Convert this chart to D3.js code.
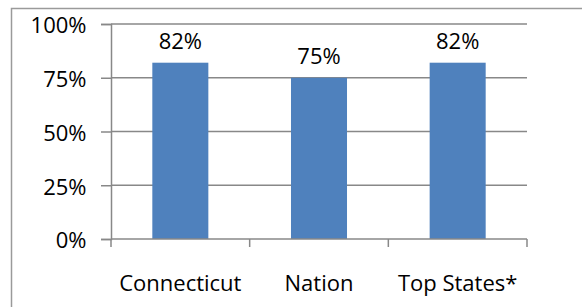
<!DOCTYPE html>
<html>
<head>
<meta charset="utf-8">
<script src="https://cdn.jsdelivr.net/npm/d3@7"></script>
<style>
    body { margin: 0; background: #fff; }
    text { font-family: "Open Sans", "Noto Sans", sans-serif; fill: #000; }
</style>
</head>
<body>
<div id="chart"></div>
<script>
const categories = ["Connecticut", "Nation", "Top States*"];
const values = [0.82, 0.75, 0.82];
const yTicks = [0, 0.25, 0.5, 0.75, 1];

function drawChart() {
    const width = 582;
    const height = 307;
    const margin = { top: 24, right: 55, bottom: 68, left: 111 };
    const fontSize = 22;

    const svg = d3
        .select("#chart")
        .append("svg")
        .attr("width", width)
        .attr("height", height);

    // outer frame (right and bottom edges fall off the picture)
    svg.append("rect")
        .attr("x", 11.5)
        .attr("y", 8.5)
        .attr("width", 600)
        .attr("height", 320)
        .attr("fill", "none")
        .attr("stroke", "#9a9a9a")
        .attr("stroke-width", 1.5);

    const x = d3
        .scaleBand()
        .domain(categories)
        .range([margin.left, width - margin.right])
        .paddingInner(0.596)
        .paddingOuter(0.298);

    const y = d3
        .scaleLinear()
        .domain([0, 1])
        .range([height - margin.bottom, margin.top]);

    // gridlines
    svg.append("g")
        .selectAll("line")
        .data(yTicks.filter((d) => d > 0))
        .join("line")
        .attr("x1", margin.left)
        .attr("x2", width - margin.right)
        .attr("y1", (d) => y(d))
        .attr("y2", (d) => y(d))
        .attr("stroke", "#888")
        .attr("stroke-width", 1.5);

    // bars
    svg.append("g")
        .selectAll("rect")
        .data(values)
        .join("rect")
        .attr("x", (d, i) => x(categories[i]))
        .attr("y", (d) => y(d))
        .attr("width", x.bandwidth())
        .attr("height", (d) => y(0) - y(d))
        .attr("fill", "#4f81bd");

    // data labels
    svg.append("g")
        .selectAll("text")
        .data(values)
        .join("text")
        .attr("x", (d, i) => x(categories[i]) + x.bandwidth() / 2)
        .attr("y", (d) => y(d) - 14)
        .attr("text-anchor", "middle")
        .attr("font-size", fontSize)
        .text((d) => d3.format(".0%")(d));

    // y axis
    const yAxis = svg.append("g")
        .attr("transform", `translate(${margin.left},0)`)
        .call(d3.axisLeft(y).tickValues(yTicks).tickFormat(d3.format(".0%")).tickSize(10).tickPadding(14.5));
    yAxis.attr("font-family", null).attr("font-size", null);
    yAxis.select(".domain").attr("stroke", "#888").attr("stroke-width", 1.5);
    yAxis.selectAll(".tick line").attr("stroke", "#888").attr("stroke-width", 1.5);
    yAxis.selectAll(".tick text")
        .attr("font-size", fontSize)
        .attr("fill", "#000")
        .attr("dy", "0.4em");

    // x axis with ticks at band boundaries
    const xAxisY = y(0);
    const bounds = categories.map((c) => x(c) - (x.step() * x.paddingInner()) / 2);
    bounds.push(width - margin.right);

    svg.append("line")
        .attr("x1", margin.left)
        .attr("x2", width - margin.right)
        .attr("y1", xAxisY)
        .attr("y2", xAxisY)
        .attr("stroke", "#888")
        .attr("stroke-width", 1.5);

    svg.append("g")
        .selectAll("line")
        .data(bounds)
        .join("line")
        .attr("x1", (d) => d)
        .attr("x2", (d) => d)
        .attr("y1", xAxisY)
        .attr("y2", xAxisY + 8)
        .attr("stroke", "#888")
        .attr("stroke-width", 1.5);

    svg.append("g")
        .selectAll("text")
        .data(categories)
        .join("text")
        .attr("x", (d) => x(d) + x.bandwidth() / 2)
        .attr("y", 291)
        .attr("text-anchor", "middle")
        .attr("font-size", fontSize)
        .text((d) => d);
}

drawChart();
</script>
</body>
</html>
